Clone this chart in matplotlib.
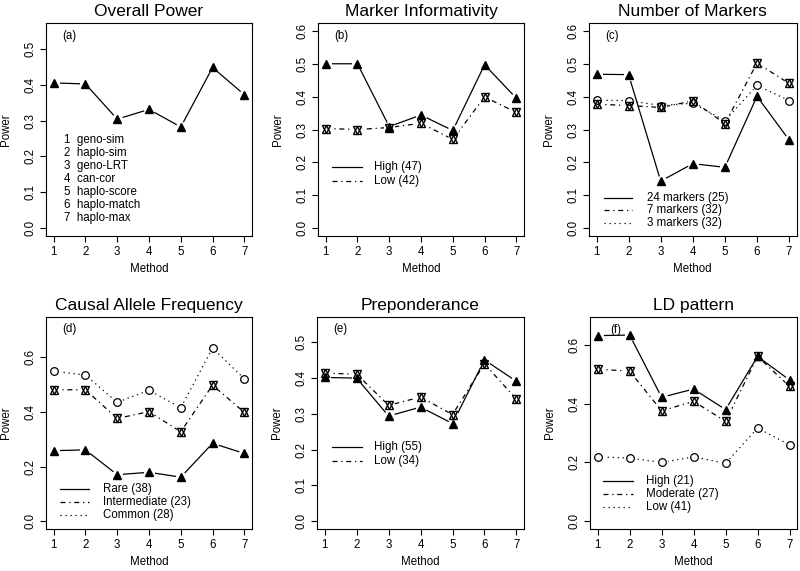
import numpy as np
import matplotlib
matplotlib.use("Agg")
import matplotlib.pyplot as plt

plt.rcParams['font.family'] = ['Liberation Sans', 'DejaVu Sans']

methods = [1, 2, 3, 4, 5, 6, 7]
method_names = ['geno-sim', 'haplo-sim', 'geno-LRT', 'can-cor',
                'haplo-score', 'haplo-match', 'haplo-max']

# (a) overall power
overall = [0.405, 0.402, 0.304, 0.331, 0.282, 0.448, 0.372]

# (b) marker informativity
info_high = [0.500, 0.500, 0.309, 0.344, 0.297, 0.497, 0.395]
info_low = [0.303, 0.300, 0.306, 0.319, 0.270, 0.399, 0.352]

# (c) number of markers
mk24 = [0.468, 0.467, 0.143, 0.196, 0.185, 0.401, 0.268]
mk7 = [0.377, 0.373, 0.367, 0.387, 0.318, 0.502, 0.440]
mk3 = [0.389, 0.388, 0.373, 0.380, 0.327, 0.434, 0.388]

# (d) causal allele frequency
freq_rare = [0.258, 0.261, 0.170, 0.179, 0.161, 0.285, 0.248]
freq_mid = [0.481, 0.481, 0.376, 0.401, 0.327, 0.498, 0.398]
freq_common = [0.549, 0.535, 0.435, 0.479, 0.415, 0.634, 0.521]

# (e) preponderance
prep_high = [0.402, 0.400, 0.294, 0.319, 0.273, 0.451, 0.391]
prep_low = [0.414, 0.411, 0.324, 0.347, 0.298, 0.440, 0.341]

# (f) LD pattern
ld_high = [0.632, 0.634, 0.422, 0.450, 0.380, 0.561, 0.481]
ld_mod = [0.518, 0.511, 0.376, 0.408, 0.340, 0.561, 0.459]
ld_low = [0.219, 0.215, 0.200, 0.219, 0.197, 0.317, 0.260]

W = 800
H = 571

SOLID = '-'
DOTDASH = (0, (4, 3, 1, 3))
DOTTED = (0, (1, 3))
FS = 8.3


def draw_series(ax, y, style, kind):
    ax.plot(methods, y, color='black', lw=0.9, ls=style, zorder=2)
    # white disc behind each point to mimic R's type="b" gaps
    ax.plot(methods, y, 'o', ms=8, mfc='white', mec='none', zorder=3)
    if kind == 'tri':
        ax.plot(methods, y, '^', ms=5.5, color='black', zorder=4)
    elif kind == 'star':
        ax.plot(methods, y, '^', ms=6, mfc='none', mec='black', mew=1.0, zorder=4)
        ax.plot(methods, y, 'v', ms=6, mfc='none', mec='black', mew=1.0, zorder=4)
    else:
        ax.plot(methods, y, 'o', ms=5.5, mfc='none', mec='black', mew=0.9, zorder=4)


def key(ax, entries, x0, x1, xt, y0, dy):
    for i, (lab, style) in enumerate(entries):
        yy = y0 - i * dy
        ax.plot([x0, x1], [yy, yy], color='black', lw=0.9, ls=style,
                transform=ax.transAxes)
        ax.text(xt, yy, lab, transform=ax.transAxes, va='center', ha='left', fontsize=FS)


def style_axes(ax, title, ymax, yticks, letter, lx=0.08, ly=0.94):
    ax.set_xlim(1 - 0.24, 7 + 0.24)
    ext = ymax * 0.04
    ax.set_ylim(-ext, ymax + ext)
    ax.set_xticks(methods)
    ax.set_yticks(yticks)
    ax.set_yticklabels(['%.1f' % t for t in yticks], rotation=90, va='center')
    ax.tick_params(labelsize=FS, length=4, width=0.8, pad=3)
    ax.set_title(title, fontsize=12.5, pad=5)
    ax.set_xlabel('Method', fontsize=FS, labelpad=4)
    ax.set_ylabel('Power', fontsize=FS, labelpad=9)
    for s in ax.spines.values():
        s.set_linewidth(0.8)
    ax.text(lx, ly, letter, transform=ax.transAxes, fontsize=FS, va='center', ha='left')


fig = plt.figure(figsize=(W / 100, H / 100), dpi=100)
top_b, top_h = 0.5867, 0.373
bot_b, bot_h = 0.0735, 0.372
ax_a = fig.add_axes([0.0575, top_b, 0.2575, top_h])
ax_b = fig.add_axes([0.3975, top_b, 0.2575, top_h])
ax_c = fig.add_axes([0.736, top_b, 0.26, top_h])
ax_d = fig.add_axes([0.0575, bot_b, 0.2575, bot_h])
ax_e = fig.add_axes([0.3963, bot_b, 0.2588, bot_h])
ax_f = fig.add_axes([0.7375, bot_b, 0.259, bot_h])

# (a)
draw_series(ax_a, overall, SOLID, 'tri')
style_axes(ax_a, 'Overall Power', 0.55, np.arange(0, 0.51, 0.1), '(a)')
ax_a.text(0.085, 0.48, '\n'.join('%d  %s' % (m, n) for m, n in zip(methods, method_names)),
          transform=ax_a.transAxes, va='top', ha='left', fontsize=FS, linespacing=1.12)

# (b)
draw_series(ax_b, info_high, SOLID, 'tri')
draw_series(ax_b, info_low, DOTDASH, 'star')
style_axes(ax_b, 'Marker Informativity', 0.6, np.arange(0, 0.61, 0.1), '(b)')
key(ax_b, [('High (47)', SOLID), ('Low (42)', DOTDASH)], 0.068, 0.214, 0.27, 0.325, 0.068)

# (c)
draw_series(ax_c, mk24, SOLID, 'tri')
draw_series(ax_c, mk7, DOTDASH, 'star')
draw_series(ax_c, mk3, DOTTED, 'circ')
style_axes(ax_c, 'Number of Markers', 0.6, np.arange(0, 0.61, 0.1), '(c)')
key(ax_c, [('24 markers (25)', SOLID), ('7 markers (32)', DOTDASH),
           ('3 markers (32)', DOTTED)], 0.072, 0.207, 0.279, 0.18, 0.06)

# (d)
draw_series(ax_d, freq_rare, SOLID, 'tri')
draw_series(ax_d, freq_mid, DOTDASH, 'star')
draw_series(ax_d, freq_common, DOTTED, 'circ')
style_axes(ax_d, 'Causal Allele Frequency', 0.72, np.arange(0, 0.61, 0.2), '(d)')
key(ax_d, [('Rare (38)', SOLID), ('Intermediate (23)', DOTDASH),
           ('Common (28)', DOTTED)], 0.068, 0.21, 0.277, 0.19, 0.061)

# (e)
draw_series(ax_e, prep_high, SOLID, 'tri')
draw_series(ax_e, prep_low, DOTDASH, 'star')
style_axes(ax_e, 'Preponderance', 0.55, np.arange(0, 0.51, 0.1), '(e)')
key(ax_e, [('High (55)', SOLID), ('Low (34)', DOTDASH)], 0.072, 0.217, 0.275, 0.386, 0.067)

# (f)
draw_series(ax_f, ld_high, SOLID, 'tri')
draw_series(ax_f, ld_mod, DOTDASH, 'star')
draw_series(ax_f, ld_low, DOTTED, 'circ')
style_axes(ax_f, 'LD pattern', 0.67, np.arange(0, 0.61, 0.2), '(f)', lx=0.1, ly=0.935)
key(ax_f, [('High (21)', SOLID), ('Moderate (27)', DOTDASH),
           ('Low (41)', DOTTED)], 0.063, 0.208, 0.27, 0.227, 0.062)

fig.savefig('out.png', dpi=100)
